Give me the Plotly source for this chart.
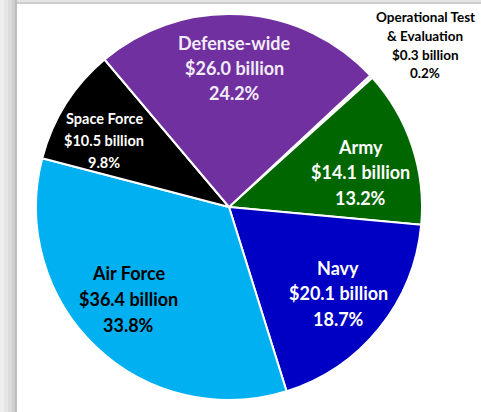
import plotly.graph_objects as go

labels = ["Operational Test & Evaluation", "Army", "Navy", "Air Force", "Space Force", "Defense-wide"]
label_lines = [["Operational Test", "& Evaluation"], ["Army"], ["Navy"], ["Air Force"], ["Space Force"], ["Defense-wide"]]
values = [0.3, 14.1, 20.1, 36.4, 10.5, 26.0]
amount_text = ["$0.3 billion", "$14.1 billion", "$20.1 billion", "$36.4 billion", "$10.5 billion", "$26.0 billion"]
pct_text = ["0.2%", "13.2%", "18.7%", "33.8%", "9.8%", "24.2%"]
colors = ["#EFEFEF", "#006600", "#0000C4", "#00B0F0", "#000000", "#7030A0"]
text_colors = ["#000000", "#FFFFFF", "#FFFFFF", "#000000", "#FFFFFF", "#F2ECF7"]

W, H = 481, 412
cx, cy, r = 229, 207, 193

# label block layout (pixel centre, font size, line spacing)
label_pos = [(425, 45, 13.5, 19), (360, 172, 18, 25.5), (338, 293, 18, 25.5),
             (128, 299, 18, 26), (104, 140, 14.5, 22), (234, 68, 18, 25.5)]

fig = go.Figure(go.Pie(
    labels=labels, values=values, sort=False, direction="clockwise", rotation=47,
    marker=dict(colors=colors, line=dict(color="white", width=2)),
    textinfo="none", hoverinfo="skip", showlegend=False,
    domain=dict(x=[(cx - r) / W, (cx + r) / W], y=[1 - (cy + r) / H, 1 - (cy - r) / H]),
))

annotations = []
for i in range(len(labels)):
    lines = label_lines[i] + [amount_text[i], pct_text[i]]
    x, y, fs, sp = label_pos[i]
    n = len(lines)
    for j, t in enumerate(lines):
        ly = y + (j - (n - 1) / 2) * sp
        annotations.append(dict(
            x=x / W, y=1 - ly / H, xref="paper", yref="paper", text=t, showarrow=False,
            xanchor="center", yanchor="middle",
            font=dict(family="Lato", size=fs, color=text_colors[i], weight="bold"),
        ))

# screenshot frame (grey shadow strips on left and top)
shapes = []
strip = [(0, 4, "#EEEEEE"), (4, 8, "#E6E6E6"), (8, 12, "#DCDCDC"), (12, 15, "#CFCFCF"), (15, 17, "#BEBEBE")]
for a, b, c in strip:
    shapes.append(dict(type="rect", xref="paper", yref="paper", x0=a / W, x1=b / W, y0=0, y1=1,
                       fillcolor=c, line=dict(width=0), layer="below"))
top = [(0, 2, "#E4E4E4"), (2, 4, "#CDCDCD")]
for a, b, c in top:
    shapes.append(dict(type="rect", xref="paper", yref="paper", x0=17 / W, x1=1, y0=1 - b / H, y1=1 - a / H,
                       fillcolor=c, line=dict(width=0), layer="below"))

fig.update_layout(
    width=W, height=H, margin=dict(l=0, r=0, t=0, b=0),
    paper_bgcolor="white", plot_bgcolor="white",
    annotations=annotations, shapes=shapes,
)

fig.write_html("out.html")
